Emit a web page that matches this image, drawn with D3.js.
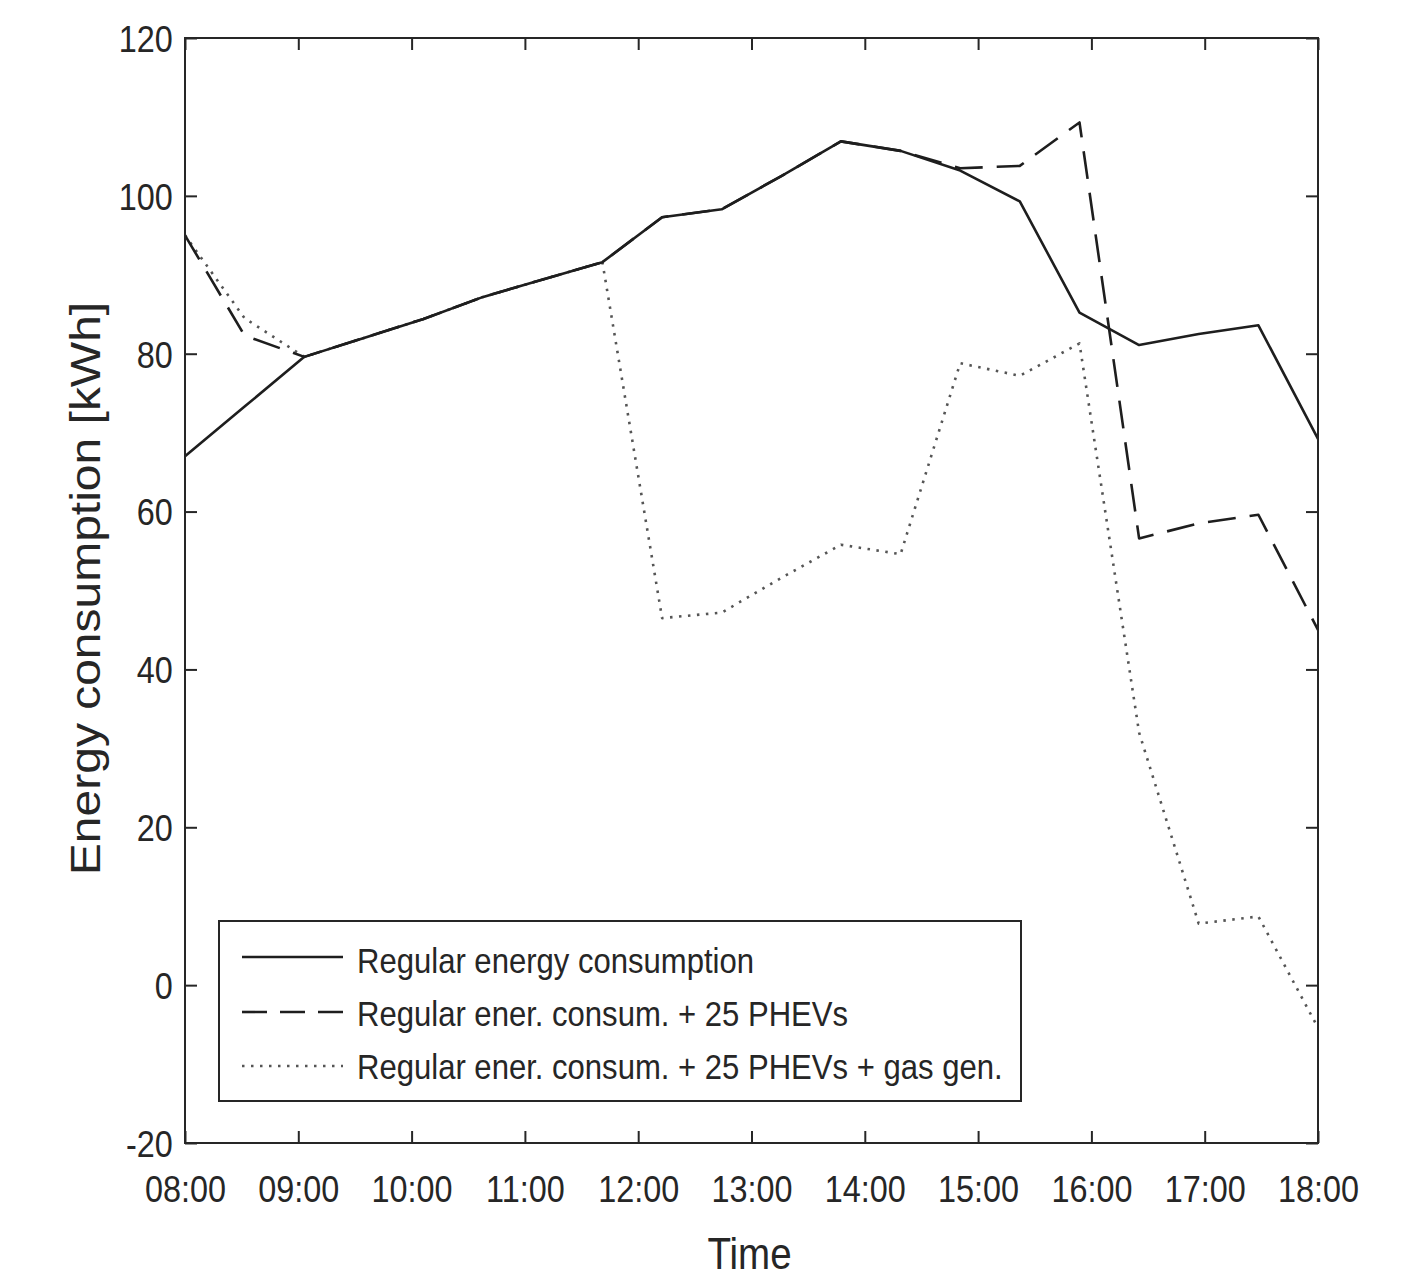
<!DOCTYPE html>
<html>
<head>
<meta charset="utf-8">
<script src="https://cdn.jsdelivr.net/npm/d3@7"></script>
<style>
  html, body { margin: 0; padding: 0; background: #fff; }
  svg { display: block; }
  text { font-family: "Liberation Sans", Arial, sans-serif; fill: #262626; }
</style>
</head>
<body>
<svg id="chart" width="1412" height="1278"></svg>
<script>
// ---- data ----
const timeHours = [8, 8.526, 9.053, 9.579, 10.105, 10.632, 11.158, 11.684, 12.211, 12.737,
                   13.263, 13.789, 14.316, 14.842, 15.368, 15.895, 16.421, 16.947, 17.474, 18];
const regular = [67.0, 73.3, 79.6, 82.0, 84.4, 87.2, 89.4, 91.6, 97.3, 98.3,
                 102.5, 106.9, 105.7, 103.2, 99.3, 85.2, 81.1, 82.5, 83.6, 69.2];
const withPHEV = [95.0, 82.3, 79.6, 82.0, 84.4, 87.2, 89.4, 91.6, 97.3, 98.3,
                  102.5, 106.9, 105.7, 103.5, 103.8, 109.3, 56.6, 58.5, 59.6, 45.0];
const withGas = [95.0, 84.5, 79.6, 82.0, 84.4, 87.2, 89.4, 91.6, 46.5, 47.2,
                 51.6, 55.8, 54.6, 78.8, 77.2, 81.3, 32.0, 7.8, 8.7, -5.4];
const xTicks = [8, 9, 10, 11, 12, 13, 14, 15, 16, 17, 18];
const xTickLabels = ["08:00","09:00","10:00","11:00","12:00","13:00","14:00","15:00","16:00","17:00","18:00"];
const yTicks = [-20, 0, 20, 40, 60, 80, 100, 120];
const yTickLabels = ["-20", "0", "20", "40", "60", "80", "100", "120"];
const seriesNames = ["Regular energy consumption",
                     "Regular ener. consum. + 25 PHEVs",
                     "Regular ener. consum. + 25 PHEVs + gas gen."];

// ---- layout ----
const L = 185, R = 1318, T = 38, B = 1143;
const SX = 0.875; // horizontal squeeze of glyphs seen in the reference
const axisColor = "#262626";

const svg = d3.select("#chart");
svg.append("rect").attr("width", 1412).attr("height", 1278).attr("fill", "#fff");

const x = d3.scaleLinear().domain([8, 18]).range([L, R]);
const y = d3.scaleLinear().domain([-20, 120]).range([B, T]);

// ---- series ----
const line = d3.line().x((d, i) => x(timeHours[i])).y(d => y(d));
const styles = [
  { data: withGas, stroke: "#555", width: 2.6, dash: "2.5,6.5" },
  { data: withPHEV, stroke: "#1e1e1e", width: 2.6, dash: "28,14" },
  { data: regular, stroke: "#1e1e1e", width: 2.6, dash: null }
];
const plot = svg.append("g");
styles.forEach(s => {
  plot.append("path")
    .attr("d", line(s.data))
    .attr("fill", "none")
    .attr("stroke", s.stroke)
    .attr("stroke-width", s.width)
    .attr("stroke-linejoin", "round")
    .attr("stroke-dasharray", s.dash);
});

// ---- axes ----
const tickLen = 12;
const xAxisB = d3.axisBottom(x).tickValues(xTicks).tickSizeInner(-tickLen).tickSizeOuter(0)
  .tickPadding(42).tickFormat((d, i) => xTickLabels[i]);
const gx = svg.append("g").attr("transform", `translate(0,${B})`).call(xAxisB);
gx.selectAll("text").attr("font-size", 37).attr("transform", `scale(${SX},1)`).attr("dy", "0.45em");

const xAxisT = d3.axisTop(x).tickValues(xTicks).tickSizeInner(-tickLen).tickSizeOuter(0).tickFormat("");
svg.append("g").attr("transform", `translate(0,${T})`).call(xAxisT);

const yAxisL = d3.axisLeft(y).tickValues(yTicks).tickSizeInner(-tickLen).tickSizeOuter(0)
  .tickPadding(14).tickFormat((d, i) => yTickLabels[i]);
const gy = svg.append("g").attr("transform", `translate(${L},0)`).call(yAxisL);
gy.selectAll("text").attr("font-size", 37).attr("transform", `scale(${SX},1)`).attr("dy", "0.36em");

const yAxisR = d3.axisRight(y).tickValues(yTicks).tickSizeInner(-tickLen).tickSizeOuter(0).tickFormat("");
svg.append("g").attr("transform", `translate(${R},0)`).call(yAxisR);

svg.selectAll(".domain").remove();
svg.selectAll(".tick line").attr("stroke", axisColor).attr("stroke-width", 2);
svg.selectAll(".tick text").attr("fill", "#333");

// box
svg.append("rect").attr("x", L).attr("y", T).attr("width", R - L).attr("height", B - T)
  .attr("fill", "none").attr("stroke", axisColor).attr("stroke-width", 2);

// ---- axis titles ----
svg.append("text")
  .attr("transform", `translate(${L + (R - L) / 2 - 2},1269) scale(${SX},1)`)
  .attr("text-anchor", "middle").attr("font-size", 44).attr("fill", "#333").text("Time");
svg.append("text")
  .attr("transform", `translate(100,${(T + B) / 2 - 2}) scale(${SX},1) rotate(-90)`)
  .attr("text-anchor", "middle").attr("font-size", 48).attr("fill", "#333").text("Energy consumption [kWh]");

// ---- legend ----
const lg = svg.append("g");
lg.append("rect").attr("x", 219).attr("y", 921).attr("width", 802).attr("height", 180)
  .attr("fill", "#fff").attr("stroke", axisColor).attr("stroke-width", 2);
const legendRows = [
  { st: styles[2], ly: 957, ty: 973 },
  { st: styles[1], ly: 1012, ty: 1026 },
  { st: styles[0], ly: 1066, ty: 1079 }
];
legendRows.forEach((r, i) => {
  lg.append("line").attr("x1", 242).attr("x2", 343).attr("y1", r.ly).attr("y2", r.ly)
    .attr("stroke", r.st.stroke).attr("stroke-width", r.st.width)
    .attr("stroke-dasharray", r.st.dash === "28,14" ? "25,13" : r.st.dash);
  lg.append("text").attr("transform", `translate(357,${r.ty}) scale(${SX},1)`)
    .attr("font-size", 35.5).attr("fill", "#222").text(seriesNames[i]);
});
</script>
</body>
</html>
